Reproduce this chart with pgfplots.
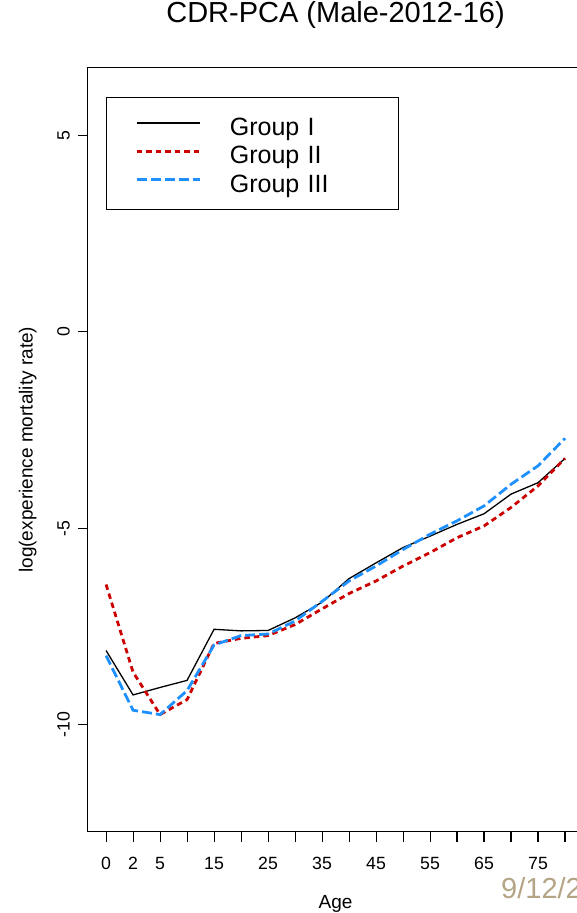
\documentclass[border=0pt]{standalone}
\usepackage{fontspec}
\setmainfont{Liberation Sans}
\usepackage{pgfplots}
\pgfplotsset{compat=1.18}
\definecolor{grpred}{RGB}{204,0,0}
\definecolor{grpblue}{RGB}{30,144,255}
\definecolor{datetan}{RGB}{181,165,134}

\begin{document}
\begin{tikzpicture}
\begin{axis}[
  at={(87.7pt,81.3pt)}, anchor=south west,
  scale only axis, width=495.7pt, height=764pt,
  xmin=-0.68, xmax=17.68, ymin=-12.72, ymax=6.72,
  axis line style={line width=1.1pt, black},
  xtick={0,...,17},
  xticklabels={0,2,5,,15,,25,,35,,45,,55,,65,,75,},
  ytick={-10,-5,0,5},
  yticklabels={-10,-5,0,5},
  xtick pos=bottom, ytick pos=left,
  tick align=outside, major tick length=10pt,
  tick style={line width=1.1pt, black},
  ticklabel style={font=\fontsize{17.7}{20}\selectfont},
  xticklabel style={anchor=base, yshift=-28pt},
  yticklabel style={xshift=-8pt, rotate=90, anchor=base},
  xlabel={Age},
  ylabel={log(experience mortality rate)},
  label style={font=\fontsize{19}{22}\selectfont},
  xlabel style={at={(axis description cs:0.5,-0.1008)}, anchor=base},
  ylabel style={at={(axis description cs:-0.111,0.5)}, anchor=base},
  title={CDR-PCA (Male-2012-16)},
  title style={at={(axis description cs:0.5,1.051)}, anchor=base,
    font=\fontsize{29}{33}\selectfont},
  legend style={
    at={(axis description cs:0.0363,0.9617)}, anchor=north west,
    draw=black, line width=1.1pt, fill=white,
    inner xsep=0pt, inner ysep=13.4pt,
    row sep=0pt, column sep=0pt,
    font=\fontsize{25}{28}\selectfont,
    nodes={anchor=base west, inner sep=0pt, text height=24.5pt,
      text depth=3.8pt, text width=168.4pt},
  },
  legend image code/.code={
    \path[draw=none, fill=none] (0pt,-3.8pt) rectangle (123.6pt,24.5pt);
    \draw[#1] (30.3pt,12.5pt) -- (93.6pt,12.5pt);
  },
]
% Group I
\addplot[black, line width=1.3pt] coordinates {
  (0,-8.11) (1,-9.24) (2,-9.05) (3,-8.87) (4,-7.57) (5,-7.61)
  (6,-7.60) (7,-7.28) (8,-6.88) (9,-6.28) (10,-5.88) (11,-5.49)
  (12,-5.20) (13,-4.90) (14,-4.63) (15,-4.13) (16,-3.84) (17,-3.22)
};
\addlegendentry{Group I}
% Group II
\addplot[grpred, line width=2.8pt, dash pattern=on 5.5pt off 4pt] coordinates {
  (0,-6.43) (1,-8.66) (2,-9.74) (3,-9.36) (4,-7.93) (5,-7.80)
  (6,-7.73) (7,-7.45) (8,-7.05) (9,-6.66) (10,-6.34) (11,-5.96)
  (12,-5.62) (13,-5.24) (14,-4.94) (15,-4.47) (16,-3.92) (17,-3.22)
};
\addlegendentry{Group II}
% Group III
\addplot[grpblue, line width=2.8pt, dash pattern=on 10pt off 4pt] coordinates {
  (0,-8.24) (1,-9.63) (2,-9.74) (3,-9.13) (4,-7.97) (5,-7.73)
  (6,-7.69) (7,-7.36) (8,-6.86) (9,-6.34) (10,-5.96) (11,-5.54)
  (12,-5.15) (13,-4.81) (14,-4.43) (15,-3.88) (16,-3.41) (17,-2.71)
};
\addlegendentry{Group III}
\end{axis}
\node[anchor=base west, text=datetan, inner sep=0pt,
  font=\fontsize{29}{32}\selectfont] at (501pt,14.7pt) {9/12/2};
\pgfresetboundingbox
\useasboundingbox (0pt,0pt) rectangle (576pt,913pt);
\end{tikzpicture}
\end{document}
